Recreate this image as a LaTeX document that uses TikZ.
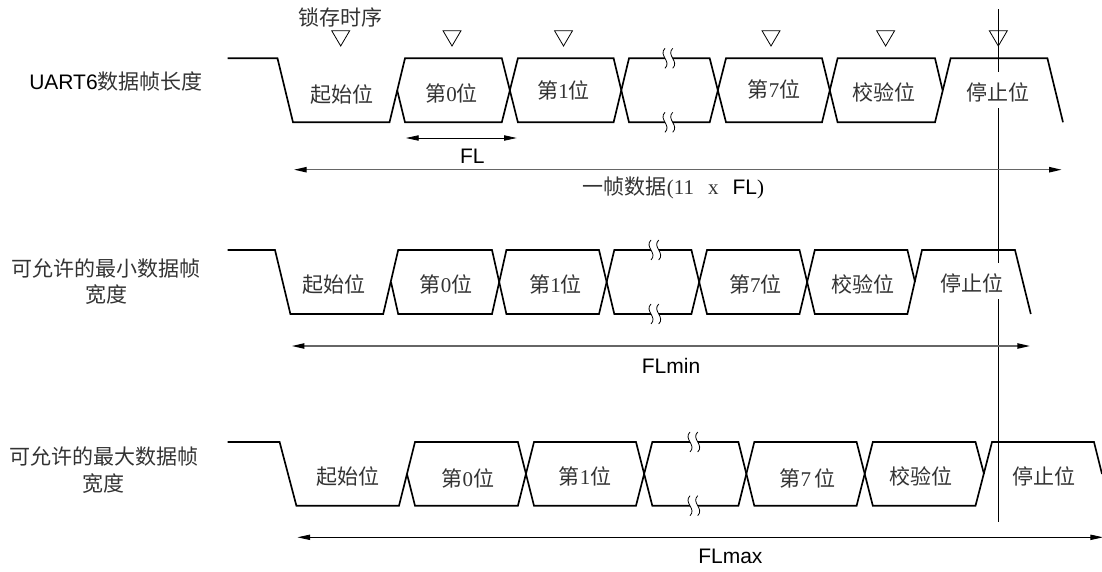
\documentclass[tikz,border=0pt]{standalone}
\usepackage{fontspec}
\setmainfont{Liberation Sans}
\newfontfamily\hanfont{Noto Sans CJK SC}
\newfontfamily\numfont{Liberation Serif}
\usetikzlibrary{arrows.meta}

\begin{document}
\begin{tikzpicture}[
  x=0.75pt, y=-0.75pt,
  font=\fontsize{15.75}{20}\selectfont,
  rail/.style={draw=black, line width=1.25pt, line join=miter},
  latchmark/.style={draw=black, line width=0.6pt},
  bitlabel/.style={font=\fontsize{15.75}{20}\selectfont\hanfont, text=black!80, inner sep=0pt},
  stoplabel/.style={bitlabel, fill=white, text height=21pt, text depth=5.5pt},
  rowlabel/.style={bitlabel, align=center},
  fixedlabel/.style={inner sep=0pt},
  dimthin/.style={draw=black, line width=0.6pt, {Triangle[length=9.5pt,width=4pt]}-{Triangle[length=9.5pt,width=4pt]}},
  dimwide/.style={draw=black!60, line width=1pt, {Triangle[length=9.5pt,width=4pt,black]}-{Triangle[length=9.5pt,width=4pt,black]}},
  breakline/.style={draw=black, line width=0.6pt}
]
\useasboundingbox (0,0) rectangle (1102,571);

%--------------------------------------------------------------
% Sampling line through the stop bit
%--------------------------------------------------------------
\coordinate (sampletop) at (998.3,9.3);
\coordinate (samplebot) at (998.3,521.7);
\draw[line width=0.6pt] (sampletop) -- (samplebot);

%--------------------------------------------------------------
% Latch marks
%--------------------------------------------------------------
\node[bitlabel] (latchtext) at (340.3,17.3) {锁存时序};
\foreach \x in {340.7,452,563.5,771,885.6,998.3}{
  \draw[latchmark] ({\x-9},30.7) -- ({\x+9},30.7) -- (\x,46) -- cycle;
}

%--------------------------------------------------------------
% Frame 1: nominal length
%--------------------------------------------------------------
\draw[rail] (227.5,58.3) -- (277.5,58.3) -- (293,122.3) -- (389.5,122.3) -- (405,58.3)
  -- (501.8,58.3) -- (517.9,122.3) -- (613.6,122.3) -- (629,58.3) -- (709.7,58.3)
  -- (726,122.3) -- (822,122.3) -- (837.6,58.3) -- (935,58.3) -- (942.6,90.3);
\draw[rail] (397.2,90.3) -- (405,122.3) -- (501.8,122.3) -- (517.9,58.3) -- (613.6,58.3)
  -- (629,122.3) -- (709.7,122.3) -- (726,58.3) -- (822,58.3) -- (837.6,122.3)
  -- (935,122.3) -- (950.6,58.3) -- (1047.4,58.3) -- (1063,122.3);

%--------------------------------------------------------------
% Frame 2: shortest permitted
%--------------------------------------------------------------
\draw[rail] (227.5,250) -- (275,250) -- (290.4,314) -- (383.2,314) -- (398.2,250)
  -- (492,250) -- (506.4,314) -- (599,314) -- (614.3,250) -- (691.4,250)
  -- (707,314) -- (799.5,314) -- (814.8,250) -- (907.4,250) -- (915,282);
\draw[rail] (391,282) -- (398.2,314) -- (492,314) -- (506.4,250) -- (599,250)
  -- (614.3,314) -- (691.4,314) -- (707,250) -- (799.5,250) -- (814.8,314)
  -- (907.4,314) -- (922,250) -- (1015,250) -- (1030.8,314);

%--------------------------------------------------------------
% Frame 3: longest permitted
%--------------------------------------------------------------
\draw[rail] (227.5,442) -- (279.6,442) -- (296.4,505.7) -- (399,505.7) -- (415,442)
  -- (517.9,442) -- (534,505.7) -- (636,505.7) -- (652.3,442) -- (738.4,442)
  -- (754.3,505.7) -- (856.6,505.7) -- (872.8,442) -- (975.5,442) -- (984,474);
\draw[rail] (407,474) -- (415,505.7) -- (517.9,505.7) -- (534,442) -- (636,442)
  -- (652.3,505.7) -- (738.4,505.7) -- (754.3,442) -- (856.6,442) -- (872.8,505.7)
  -- (975.5,505.7) -- (992,442) -- (1094,442) -- (1102,474);

%--------------------------------------------------------------
% Breaks in the rails
%--------------------------------------------------------------
\foreach \x/\y in {669/58.3, 669/122.3, 655/250, 655/314, 694/442, 694/505.7}{
  \begin{scope}[shift={(\x,\y)}]
    \fill[white] (-4,-10) .. controls (-11,-3) and (3,3) .. (-4,10) -- (3.7,10)
      .. controls (10.7,3) and (-3.3,-3) .. (3.7,-10) -- cycle;
    \draw[breakline] (-4,-10) .. controls (-11,-3) and (3,3) .. (-4,10);
    \draw[breakline] (3.7,-10) .. controls (-3.3,-3) and (10.7,3) .. (3.7,10);
  \end{scope}
}

%--------------------------------------------------------------
% Bit labels
%--------------------------------------------------------------
\foreach \nm/\x/\y/\lab in {%
  starta/341.7/95/{起始位},
  zeroa/451.7/93.3/{第{\numfont 0}位},
  onea/563.5/90/{第{\numfont 1}位},
  sevena/774/89.3/{第{\numfont 7}位},
  paritya/884/92.7/{校验位},
  startb/333.9/284.3/{起始位},
  zerob/446/284.3/{第{\numfont 0}位},
  oneb/555.6/284.3/{第{\numfont 1}位},
  sevenb/755.3/284.3/{第{\numfont 7}位},
  parityb/862.5/284.7/{校验位},
  startc/347.7/476.7/{起始位},
  zeroc/467.8/478.3/{第{\numfont 0}位},
  onec/585/476.7/{第{\numfont 1}位},
  sevenc/807.5/478.3/{第{\numfont 7}\,位},
  parityc/921/476.7/{校验位}}{
  \node[bitlabel] (\nm) at (\x,\y) {\lab};
}
\node[stoplabel] (stopa) at (998.3,90) {停止位};
\node[stoplabel] (stopb) at (972,281) {停止位};
\node[stoplabel] (stopc) at (1044,474.3) {停止位};

%--------------------------------------------------------------
% Row labels
%--------------------------------------------------------------
\node[fixedlabel] (rowa) at (116,81.7) {UART6{\hanfont\color{black!80}数据帧长度}};
\node[rowlabel] (rowb) at (106,281.6) {可允许的最小数据帧\\宽度};
\node[rowlabel] (rowc) at (104,469.8) {可允许的最大数据帧\\宽度};

%--------------------------------------------------------------
% Length arrows
%--------------------------------------------------------------
\coordinate (fla) at (406,138);
\coordinate (flb) at (516.7,138);
\draw[dimthin] (fla) -- (flb);
\node[fixedlabel] (fltext) at (472.3,156.7) {FL};

\coordinate (framea) at (294,169.7);
\coordinate (frameb) at (1061.7,169.7);
\draw[dimwide] (framea) -- (frameb);
\node[fixedlabel] (frametext) at (673.5,188)
  {{\hanfont\color{black!80}一帧数据}{\numfont\color{black!80}(11\hspace{10.5pt}x\hspace{10.5pt}}FL{\numfont)}};

\coordinate (mina) at (291.8,346);
\coordinate (minb) at (1030,346);
\draw[dimwide] (mina) -- (minb);
\node[fixedlabel] (mintext) at (671,365.7) {FLmin};

\coordinate (maxa) at (297.5,537.3);
\coordinate (maxb) at (1103,537.3);
\draw[dimthin] (maxa) -- (maxb);
\node[fixedlabel] (maxtext) at (730.4,556.7) {FLmax};

\end{tikzpicture}
\end{document}
